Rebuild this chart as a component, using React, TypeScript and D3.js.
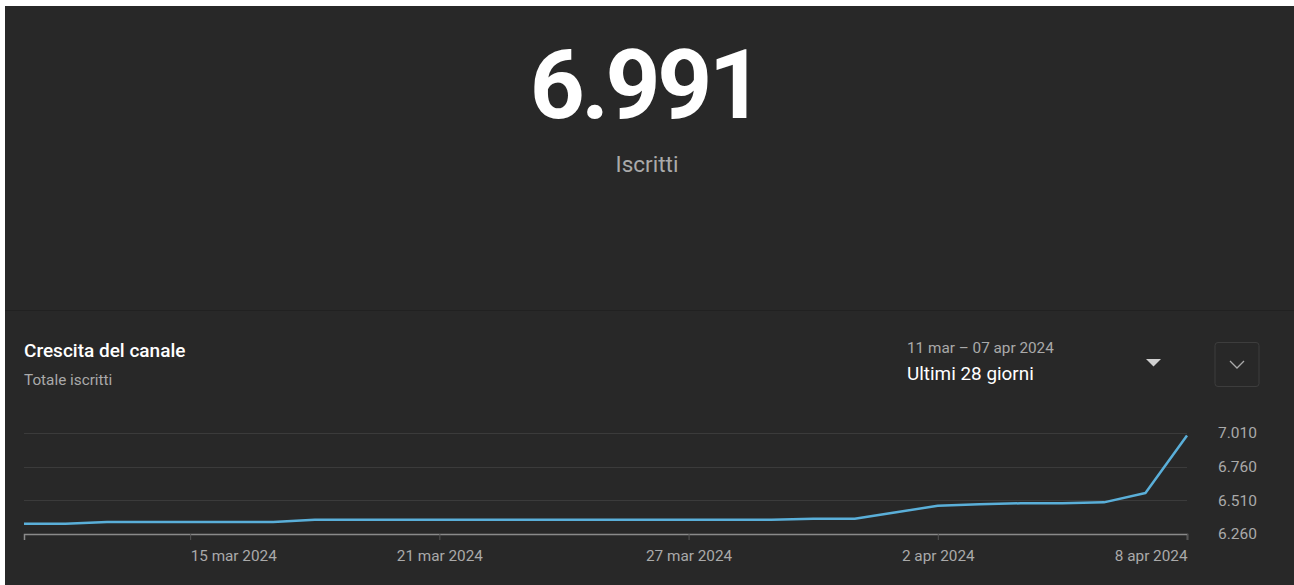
import { useRef, useEffect } from "react";
import * as d3 from "d3";

// daily totals, 11 mar -> 8 apr 2024
const days = [
  "2024-03-11", "2024-03-12", "2024-03-13", "2024-03-14", "2024-03-15",
  "2024-03-16", "2024-03-17", "2024-03-18", "2024-03-19", "2024-03-20",
  "2024-03-21", "2024-03-22", "2024-03-23", "2024-03-24", "2024-03-25",
  "2024-03-26", "2024-03-27", "2024-03-28", "2024-03-29", "2024-03-30",
  "2024-03-31", "2024-04-01", "2024-04-02", "2024-04-03", "2024-04-04",
  "2024-04-05", "2024-04-06", "2024-04-07", "2024-04-08",
];

const subscribers = [
  6337, 6337, 6349, 6349, 6349,
  6349, 6349, 6365, 6365, 6365,
  6365, 6365, 6365, 6365, 6365,
  6365, 6365, 6365, 6365, 6373,
  6374, 6421, 6470, 6480, 6488,
  6488, 6495, 6564, 6991,
];

const xTicks = ["2024-03-15", "2024-03-21", "2024-03-27", "2024-04-02", "2024-04-08"];
const xTickLabels = ["15 mar 2024", "21 mar 2024", "27 mar 2024", "2 apr 2024", "8 apr 2024"];
const yTicks = [6260, 6510, 6760, 7010];

const totalSubscribers = 6991;

const W = 1294;
const H = 585;
const FONT = "Roboto, 'Noto Sans', sans-serif";

const itLocale = d3.formatLocale({
  decimal: ",",
  thousands: ".",
  grouping: [3],
  currency: ["", "€"],
});
const fmt = itLocale.format(",d");
const parse = d3.utcParse("%Y-%m-%d");

export default function App() {
  const svgRef = useRef<SVGSVGElement>(null);

  useEffect(() => {
    const svg = d3.select(svgRef.current);
    svg.selectAll("*").remove();

    const data = days.map((d, i) => ({ date: parse(d) as Date, value: subscribers[i] }));

    // page + panel
    svg.append("rect").attr("width", W).attr("height", H).attr("fill", "#ffffff");
    svg.append("rect")
      .attr("x", 5).attr("y", 6)
      .attr("width", W - 5).attr("height", H - 6)
      .attr("fill", "#282828");

    svg.append("line")
      .attr("x1", 5).attr("x2", W)
      .attr("y1", 310.5).attr("y2", 310.5)
      .attr("stroke", "#212121");

    // big number
    svg.append("text")
      .attr("x", 645).attr("y", 118)
      .attr("text-anchor", "middle")
      .attr("font-family", FONT)
      .attr("font-weight", 700)
      .attr("font-size", 96)
      .attr("letter-spacing", -3.5)
      .attr("fill", "#ffffff")
      .text(fmt(totalSubscribers));

    svg.append("text")
      .attr("x", 647).attr("y", 172)
      .attr("text-anchor", "middle")
      .attr("font-family", FONT)
      .attr("font-size", 22.5)
      .attr("fill", "#aaaaaa")
      .text("Iscritti");

    // card header
    svg.append("text")
      .attr("x", 24).attr("y", 357)
      .attr("font-family", FONT)
      .attr("font-weight", 500)
      .attr("font-size", 19)
      .attr("fill", "#ffffff")
      .text("Crescita del canale");

    svg.append("text")
      .attr("x", 24).attr("y", 385)
      .attr("font-family", FONT)
      .attr("font-size", 15.3)
      .attr("fill", "#aaaaaa")
      .text("Totale iscritti");

    svg.append("text")
      .attr("x", 907).attr("y", 353)
      .attr("font-family", FONT)
      .attr("font-size", 15.3)
      .attr("fill", "#aaaaaa")
      .text("11 mar – 07 apr 2024");

    svg.append("text")
      .attr("x", 907).attr("y", 380)
      .attr("font-family", FONT)
      .attr("font-size", 18.9)
      .attr("fill", "#ffffff")
      .text("Ultimi 28 giorni");

    // dropdown arrow
    svg.append("path")
      .attr("d", "M1146,359 L1161,359 L1153.5,366.5 Z")
      .attr("fill", "#d0d0d0");

    // collapse button
    svg.append("rect")
      .attr("x", 1215).attr("y", 342.5)
      .attr("width", 44).attr("height", 44)
      .attr("rx", 3)
      .attr("fill", "none")
      .attr("stroke", "#3d3d3d");

    svg.append("path")
      .attr("d", "M1230,361 L1237,368 L1244,361")
      .attr("fill", "none")
      .attr("stroke", "#aaaaaa")
      .attr("stroke-width", 1.3);

    // chart
    const x = d3.scaleUtc()
      .domain(d3.extent(data, d => d.date) as [Date, Date])
      .range([24, 1187]);

    const y = d3.scaleLinear()
      .domain([yTicks[0], yTicks[yTicks.length - 1]])
      .range([534, 433]);

    // grid
    svg.append("g")
      .selectAll("line")
      .data(yTicks.slice(1))
      .enter()
      .append("line")
      .attr("x1", 24).attr("x2", 1187)
      .attr("y1", d => Math.round(y(d)) + 0.5)
      .attr("y2", d => Math.round(y(d)) + 0.5)
      .attr("stroke", "#3b3b3b");

    // y labels on the right
    const yAxis = d3.axisRight(y)
      .tickValues(yTicks)
      .tickFormat(d => fmt(d as number))
      .tickSize(0)
      .tickPadding(31);

    const gy = svg.append("g")
      .attr("transform", "translate(1187,0)")
      .call(yAxis);
    gy.select(".domain").remove();
    gy.selectAll("text")
      .attr("fill", "#aaaaaa")
      .attr("font-family", FONT)
      .attr("font-size", 15.5);

    // x axis
    const tickDates = xTicks.map(t => parse(t) as Date);
    const xAxis = d3.axisBottom(x)
      .tickValues(tickDates)
      .tickFormat((_, i) => xTickLabels[i])
      .tickSizeOuter(0)
      .tickSize(6)
      .tickPadding(10);

    const gx = svg.append("g")
      .attr("transform", "translate(0,534)")
      .call(xAxis);
    gx.select(".domain")
      .attr("stroke", "#8a8a8a")
      .attr("stroke-width", 1.5);
    gx.selectAll(".tick line").attr("stroke", "#555555");
    gx.selectAll<SVGTextElement, Date>("text")
      .attr("fill", "#aaaaaa")
      .attr("font-family", FONT)
      .attr("font-size", 15.3)
      .attr("text-anchor", (_, i) => (i === 0 ? "start" : i === xTicks.length - 1 ? "end" : "middle"));

    // line
    const line = d3.line<{ date: Date; value: number }>()
      .x(d => x(d.date))
      .y(d => y(d.value));

    svg.append("path")
      .datum(data)
      .attr("fill", "none")
      .attr("stroke", "#5aafd9")
      .attr("stroke-width", 2.5)
      .attr("stroke-linejoin", "round")
      .attr("d", line);
  }, []);

  return (
    <svg
      ref={svgRef}
      width={W}
      height={H}
      style={{ position: "absolute", left: 0, top: 0, display: "block" }}
    />
  );
}
